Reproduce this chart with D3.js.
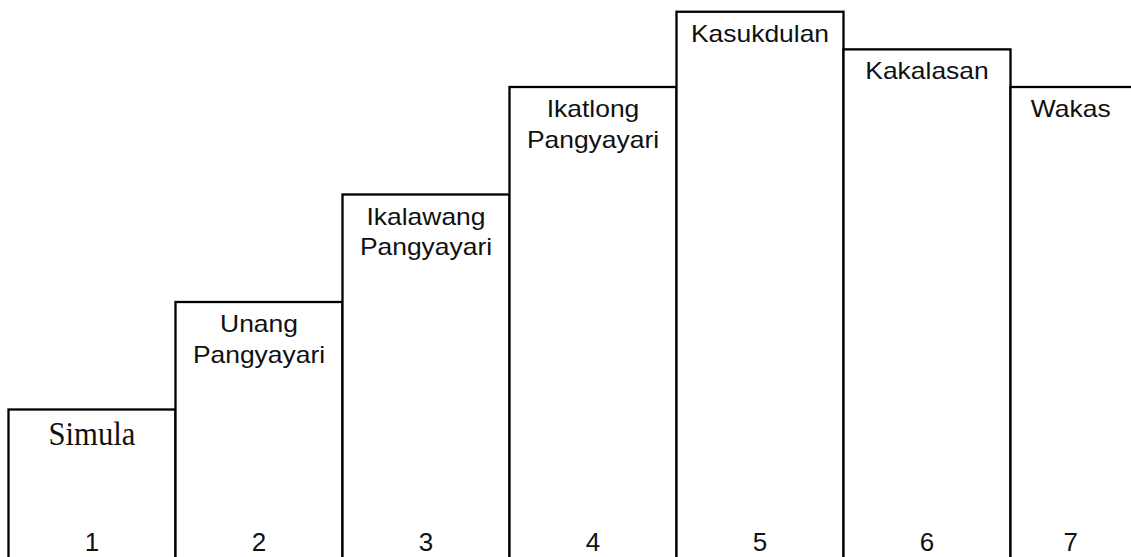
<!DOCTYPE html>
<html>
<head>
<meta charset="utf-8">
<script src="https://cdn.jsdelivr.net/npm/d3@7"></script>
<style>
  body { margin: 0; background: #fff; }
  svg { display: block; }
</style>
</head>
<body>
<script>
// Stage numbers along the bottom
const stages = ["1", "2", "3", "4", "5", "6", "7"];

// Stage names (each inner array is one line of text)
const stageNames = [
  ["Simula"],
  ["Unang", "Pangyayari"],
  ["Ikalawang", "Pangyayari"],
  ["Ikatlong", "Pangyayari"],
  ["Kasukdulan"],
  ["Kakalasan"],
  ["Wakas"]
];

// Height level of each step
const levels = [1, 2, 3, 4, 4.7, 4.35, 4];

const width = 1131;
const height = 557;

const svg = d3
  .select("body")
  .append("svg")
  .attr("width", width)
  .attr("height", height);

// Scales
const x = d3.scaleBand().domain(stages).range([8.5, 8.5 + 167 * stages.length]);
const y = d3.scaleLinear().domain([0, 5]).range([517, -20.5]);

const data = stages.map((s, i) => ({ stage: s, name: stageNames[i], level: levels[i] }));

// Steps (open at the bottom, running off the page)
svg
  .selectAll(".step")
  .data(data)
  .enter()
  .append("rect")
  .attr("class", "step")
  .attr("x", (d) => x(d.stage))
  .attr("y", (d) => y(d.level))
  .attr("width", x.bandwidth())
  .attr("height", (d) => height + 10 - y(d.level))
  .attr("fill", "#fff")
  .attr("stroke", "#000")
  .attr("stroke-width", 2.3);

// centre of the visible part of a step
const cx = (d) => (x(d.stage) + Math.min(x(d.stage) + x.bandwidth(), width)) / 2;

// Stage names
data.forEach((d, i) => {
  const serif = i === 0;
  const t = svg
    .append("text")
    .attr("text-anchor", "middle")
    .attr("fill", "#111")
    .style("font-family", serif ? "'Liberation Serif', 'Times New Roman', serif" : "'Liberation Sans', Arial, sans-serif")
    .style("font-size", serif ? "33px" : "23px");
  if (serif) {
    t.attr("transform", `translate(${cx(d)},445) scale(0.93,1)`).text(d.name[0]);
  } else {
    t.attr("transform", `translate(${cx(d)},${y(d.level) + 30}) scale(1.15,1)`);
    d.name.forEach((line, j) => {
      t.append("tspan").attr("x", 0).attr("y", j * 31).text(line);
    });
  }
});

// Stage numbers
svg
  .selectAll(".num")
  .data(data)
  .enter()
  .append("text")
  .attr("class", "num")
  .attr("x", (d) => cx(d))
  .attr("y", 551)
  .attr("text-anchor", "middle")
  .attr("fill", "#111")
  .style("font-family", "'Liberation Sans', Arial, sans-serif")
  .style("font-size", "26px")
  .text((d) => d.stage);
</script>
</body>
</html>
